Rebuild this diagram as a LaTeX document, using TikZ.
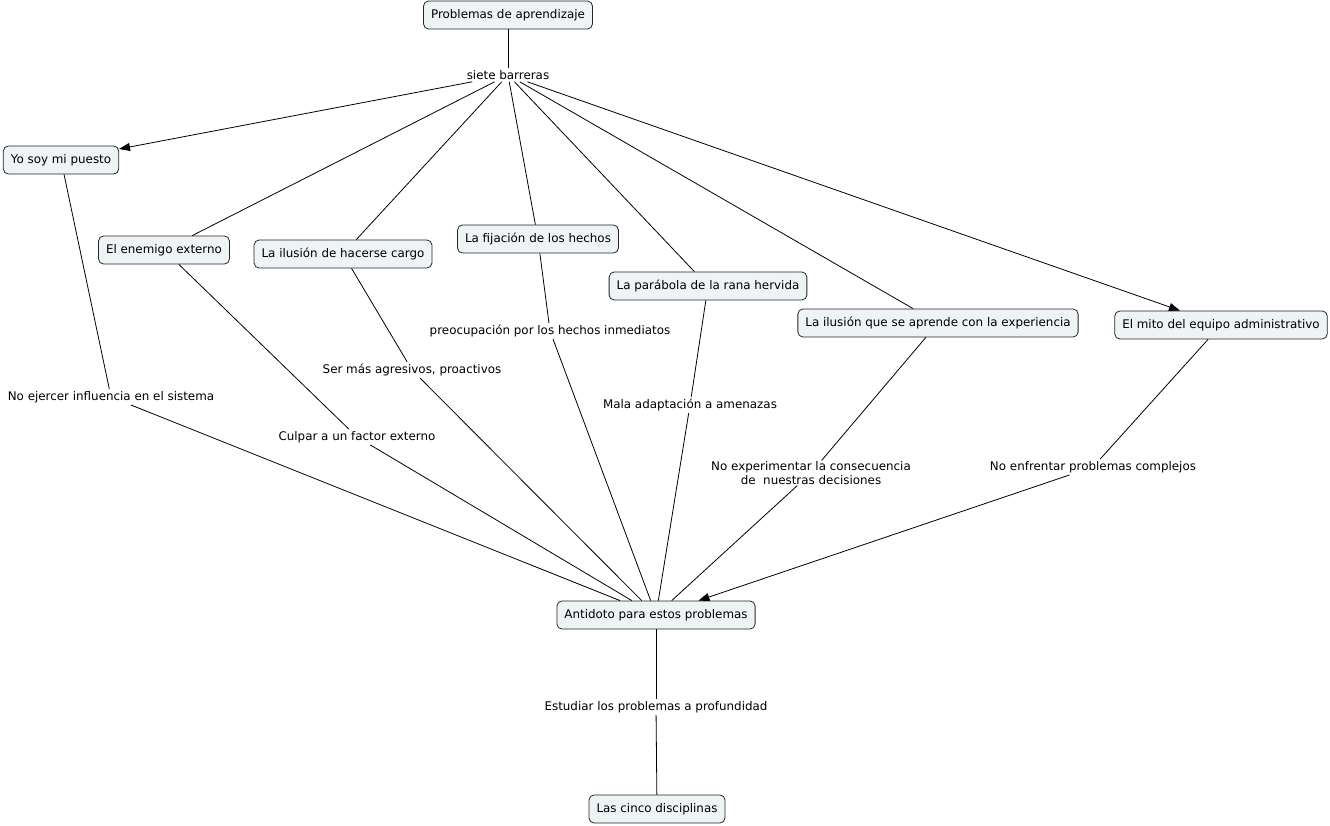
\documentclass[tikz,border=0pt]{standalone}
\usepackage{fontspec}
\setmainfont{DejaVu Sans}
\usetikzlibrary{arrows.meta}
\begin{document}
\begin{tikzpicture}[x=1pt,y=-1pt,
  concept/.style={draw=black!85,fill=cfill,rounded corners=5pt,line width=0.8pt,inner xsep=7.5pt,inner ysep=0pt,minimum height=28pt,font=\fontsize{11.9}{13.5}\selectfont},
  lab/.style={inner sep=2pt,fill=white,font=\fontsize{11.9}{13.5}\selectfont,align=center},
  con/.style={draw=black,line width=0.8pt},
  arr/.style={con,-{Triangle[length=11pt,width=8pt]}}]
\definecolor{cfill}{HTML}{EEF3F5}
\useasboundingbox (0,0) rectangle (1330,826);
\node[concept] (prob) at (508,15) {Problemas de aprendizaje};
\node[lab] (siete) at (508,75) {siete barreras};
\node[concept] (yo) at (61,160) {Yo soy mi puesto};
\node[concept] (ene) at (164,250) {El enemigo externo};
\node[concept] (ilu) at (343,254) {La ilusión de hacerse cargo};
\node[concept] (fij) at (538,239) {La fijación de los hechos};
\node[concept] (par) at (708,286) {La parábola de la rana hervida};
\node[concept] (exp) at (938,323) {La ilusión que se aprende con la experiencia};
\node[concept] (mito) at (1221,325) {El mito del equipo administrativo};
\node[concept] (anti) at (656,615) {Antidoto para estos problemas};
\node[concept] (cinco) at (657,809) {Las cinco disciplinas};
\node[lab] (l1) at (111,397) {No ejercer influencia en el sistema};
\node[lab] (l2) at (357,437) {Culpar a un factor externo};
\node[lab] (l3) at (412,370) {Ser más agresivos, proactivos};
\node[lab] (l4) at (550,331) {preocupación por los hechos inmediatos};
\node[lab] (l5) at (690,405) {Mala adaptación a amenazas};
\node[lab,inner sep=1pt] (l6) at (811,473) {No experimentar la consecuencia\\de\ \ nuestras decisiones};
\node[lab] (l7) at (1093,467) {No enfrentar problemas complejos};
\node[lab] (l8) at (656,707) {Estudiar los problemas a profundidad};
\draw[con] (prob) -- (siete);
\draw[arr] (siete) -- (yo);
\draw[con] (siete) -- (ene);
\draw[con] (siete) -- (ilu);
\draw[con] (siete) -- (fij);
\draw[con] (siete) -- (par);
\draw[con] (siete) -- (exp);
\draw[arr] (siete) -- (mito);
\draw[con] (yo) -- (l1);
\draw[con] (l1) -- (anti);
\draw[con] (ene) -- (l2);
\draw[con] (l2) -- (anti);
\draw[con] (ilu) -- (l3);
\draw[con] (l3) -- (anti);
\draw[con] (fij) -- (l4);
\draw[con] (l4) -- (anti);
\draw[con] (par) -- (l5);
\draw[con] (l5) -- (anti);
\draw[con] (exp) -- (l6);
\draw[con] (l6) -- (anti);
\draw[con] (mito) -- (l7);
\draw[arr] (l7) -- (anti);
\draw[con] (anti) -- (l8);
\draw[con] (l8) -- (cinco);
\end{tikzpicture}
\end{document}
